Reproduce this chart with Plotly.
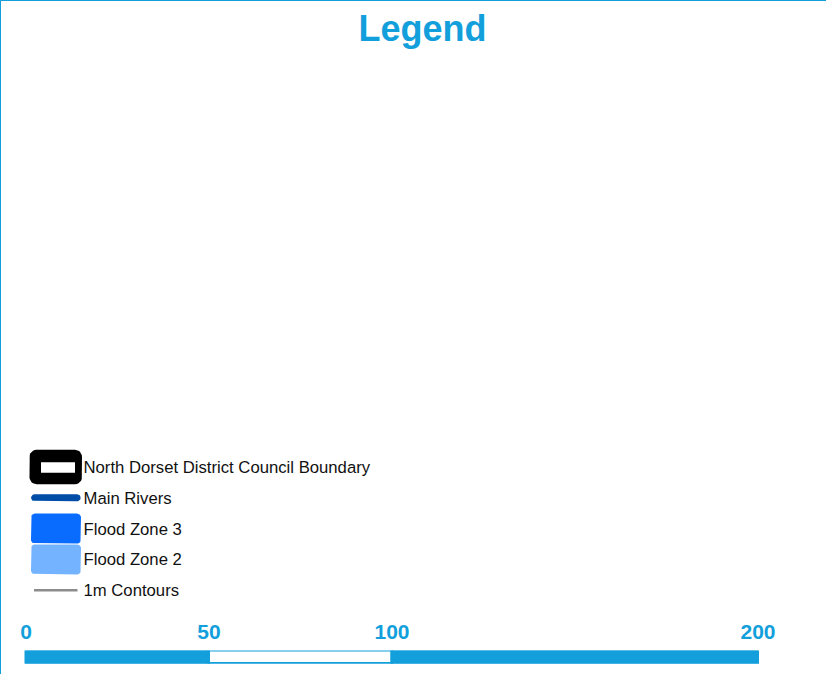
import math
import plotly.graph_objects as go

# ---- data ----
title_text = "Legend"
legend_labels = ["North Dorset District Council Boundary", "Main Rivers",
                 "Flood Zone 3", "Flood Zone 2", "1m Contours"]
legend_colors = ["#000000", "#004da8", "#0a6cff", "#74b3ff", "#8c8c8c"]
scale_ticks = [0, 50, 100, 200]
scale_fill = ["#129fdb", "#ffffff", "#129fdb"]

ACCENT = "#129fdb"
FONT = "Liberation Sans, Arial, sans-serif"
W, H = 826, 674

# legend rows: pixel centres (first row + pitch)
row_y = [467 + 30.8 * i for i in range(len(legend_labels))]

# glyph geometry in px: (x0, x1, height, corner radius)
glyphs = [
	(29.5, 82, 34.5, 7),
	(31, 80.7, 7, 3.5),
	(31, 81, 30, 4),
	(31, 81, 30, 4),
]


def rounded_rect(x0, x1, yc, h, r, n=6):
	"""Closed polygon for a rounded rectangle (pixel units, y down)."""
	y0, y1 = yc - h / 2, yc + h / 2
	xs, ys = [], []
	corners = [(x1 - r, y0 + r, -90, 0), (x1 - r, y1 - r, 0, 90),
			(x0 + r, y1 - r, 90, 180), (x0 + r, y0 + r, 180, 270)]
	for cx, cy, a0, a1 in corners:
		for j in range(n + 1):
			a = math.radians(a0 + (a1 - a0) * j / n)
			xs.append(cx + r * math.cos(a))
			ys.append(cy + r * math.sin(a))
	xs.append(xs[0])
	ys.append(ys[0])
	return xs, ys


fig = go.Figure()

for (x0, x1, h, r), yc, col in zip(glyphs, row_y, legend_colors):
	xs, ys = rounded_rect(x0, x1, yc, h, r)
	fig.add_trace(go.Scatter(x=xs, y=ys, mode='lines', fill='toself', fillcolor=col,
			line=dict(width=0, color=col), xaxis='x2', yaxis='y2',
			hoverinfo='skip', showlegend=False))

# white inner box of the boundary symbol
xs, ys = rounded_rect(41, 75, row_y[0] + 0.5, 10.5, 0, n=1)
fig.add_trace(go.Scatter(x=xs, y=ys, mode='lines', fill='toself', fillcolor='white',
		line=dict(width=0, color='white'), xaxis='x2', yaxis='y2',
		hoverinfo='skip', showlegend=False))

# contour line symbol
fig.add_trace(go.Scatter(
	x=[34, 77.5], y=[row_y[4]] * 2, mode='lines', xaxis='x2', yaxis='y2',
	line=dict(color=legend_colors[4], width=2.5), hoverinfo='skip', showlegend=False))

# legend labels
fig.add_trace(go.Scatter(
	x=[83.5] * len(row_y), y=[y + 1.8 for y in row_y], mode='text', text=legend_labels,
	textposition='middle right', xaxis='x2', yaxis='y2', cliponaxis=False,
	textfont=dict(family=FONT, size=16.7, color='#111111'),
	hoverinfo='skip', showlegend=False))

# scale bar segments
seg_base = scale_ticks[:-1]
seg_len = [b - a for a, b in zip(scale_ticks[:-1], scale_ticks[1:])]
fig.add_trace(go.Bar(
	y=[0] * len(seg_base), x=seg_len, base=seg_base, orientation='h', width=1,
	marker=dict(color=scale_fill, line=dict(color=ACCENT, width=2.5)),
	hoverinfo='skip', showlegend=False))

# pixel mapping for the scale axis: 0 -> 26px, 200 -> 758px
px0, px1 = 26, 758
k = (px1 - px0) / (scale_ticks[-1] - scale_ticks[0])

fig.update_layout(
	width=W, height=H, margin=dict(l=0, r=0, t=0, b=0),
	paper_bgcolor='white', plot_bgcolor='rgba(0,0,0,0)',
	barmode='overlay', bargap=0,
	title=dict(text=title_text, x=422.5 / W, y=1 - 28 / H, xanchor='center',
			yanchor='middle', font=dict(family=FONT, size=36, color=ACCENT, weight='bold')),
	xaxis=dict(domain=[0, 1], range=[-px0 / k, (W - px0) / k],
			tickvals=scale_ticks, ticktext=[str(v) for v in scale_ticks],
			side='top', ticks='outside', ticklen=2, tickcolor='rgba(0,0,0,0)',
			tickfont=dict(family=FONT, size=21, color=ACCENT, weight='bold'),
			showgrid=False, zeroline=False, showline=False, fixedrange=True),
	yaxis=dict(domain=[(H - 663.8) / H, (H - 650.5) / H], range=[-0.5, 0.5],
			visible=False, fixedrange=True),
	xaxis2=dict(domain=[0, 1], range=[0, W], anchor='y2', visible=False),
	yaxis2=dict(domain=[0, 1], range=[H, 0], anchor='x2', visible=False),
	shapes=[
		dict(type='line', xref='paper', yref='paper', x0=0, x1=1, y0=1, y1=1,
			line=dict(color=ACCENT, width=2)),
		dict(type='line', xref='paper', yref='paper', x0=0, x1=0, y0=0, y1=1,
			line=dict(color=ACCENT, width=2)),
	],
)

fig.write_html("out.html", config={'displayModeBar': False},
		post_script="document.body.style.margin='0';document.body.style.overflow='hidden';")
